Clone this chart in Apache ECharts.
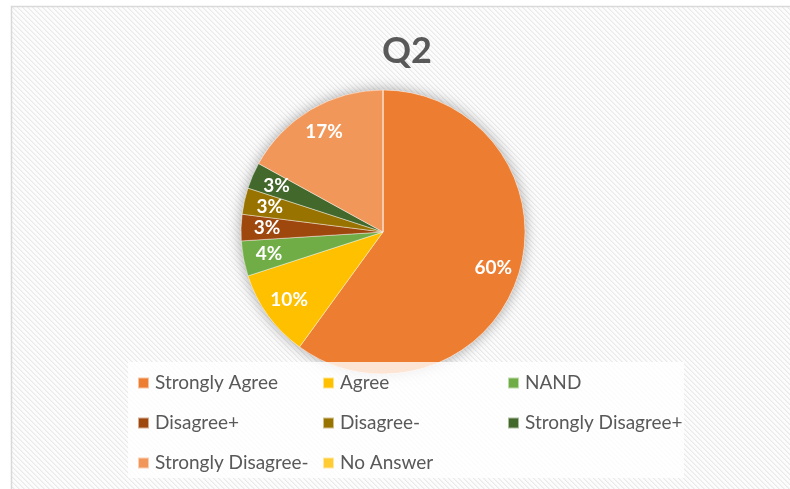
<!DOCTYPE html>
<html>
<head>
<meta charset="utf-8">
<script src="https://cdn.jsdelivr.net/npm/echarts@6/dist/echarts.min.js"></script>
<style>
  html, body { margin: 0; padding: 0; background: #ffffff; }
  #chart { width: 790px; height: 489px; }
</style>
</head>
<body>
<div id="chart"></div>
<script>
// ---- data ----
const title = 'Q2';
const categories = ['Strongly Agree', 'Agree', 'NAND', 'Disagree+', 'Disagree-', 'Strongly Disagree+', 'Strongly Disagree-', 'No Answer'];
const percents = [60, 10, 4, 3, 3, 3, 17, 0];
const palette = ['#ED7D31', '#FFC000', '#70AD47', '#9E480E', '#997300', '#43682B', '#F1975A', '#FFCD33'];
const legendColumns = [
  ['Strongly Agree', 'Disagree+', 'Strongly Disagree-'],
  ['Agree', 'Disagree-', 'No Answer'],
  ['NAND', 'Strongly Disagree+']
];

// ---- hatch background pattern ----
function makeHatch() {
  const n = 5;
  const c = document.createElement('canvas');
  c.width = n; c.height = n;
  const ctx = c.getContext('2d');
  const img = ctx.createImageData(n, n);
  for (let y = 0; y < n; y++) {
    for (let x = 0; x < n; x++) {
      const k = ((x - y) % n + n) % n;
      const v = k === 0 ? 234 : (k === 1 ? 243 : 252);
      const i = (y * n + x) * 4;
      img.data[i] = v; img.data[i + 1] = v; img.data[i + 2] = v; img.data[i + 3] = 255;
    }
  }
  ctx.putImageData(img, 0, 0);
  return c;
}

const chart = echarts.init(document.getElementById('chart'), null, { renderer: 'canvas' });
const pieCenter = [383, 232];
const pieRadius = 142;
const fontFam = 'Lato, "Open Sans", sans-serif';

const pieData = categories.map((name, i) => ({ name, value: percents[i], itemStyle: { color: palette[i] } }));

const legendLefts = [137, 322, 507];
const legends = legendColumns.map((col, ci) => ({
  data: col,
  orient: 'vertical',
  left: legendLefts[ci],
  top: 373,
  padding: 0,
  itemWidth: 11,
  itemHeight: 11,
  itemGap: 20,
  icon: 'rect',
  selectedMode: false,
  textStyle: { color: '#595959', fontSize: 19, fontFamily: fontFam, lineHeight: 20, padding: [0, 0, 0, 1] }
}));

chart.setOption({
  animation: false,
  backgroundColor: '#ffffff',
  title: {
    text: title,
    left: 382,
    top: 33,
    padding: 0,
    textStyle: { color: '#595959', fontSize: 36, fontWeight: 'bold', fontFamily: fontFam, lineHeight: 36 }
  },
  legend: legends,
  graphic: [
    {
      type: 'rect', z: 0, silent: true,
      shape: { x: 11.5, y: 6.5, width: 800, height: 500 },
      style: { fill: { image: makeHatch(), repeat: 'repeat' }, stroke: '#d9d9d9', lineWidth: 1.5 }
    },
    {
      type: 'rect', z: 3, silent: true,
      shape: { x: 128, y: 362, width: 556, height: 116 },
      style: { fill: 'rgba(255,255,255,0.8)' }
    }
  ],
  series: [
    {
      type: 'pie', silent: true, z: 1,
      center: pieCenter, radius: pieRadius,
      label: { show: false }, labelLine: { show: false },
      itemStyle: { color: '#ffffff', shadowBlur: 14, shadowColor: 'rgba(0,0,0,0.35)' },
      data: [{ value: 1, name: '__shadow__' }]
    },
    {
      type: 'pie', z: 2,
      center: pieCenter, radius: pieRadius,
      startAngle: 90, clockwise: true,
      label: { show: false }, labelLine: { show: false },
      itemStyle: { borderColor: 'rgba(255,255,255,0.55)', borderWidth: 0.75 },
      emphasis: { disabled: true },
      data: pieData
    },
    {
      type: 'pie', z: 2, silent: true,
      center: pieCenter, radius: [84, pieRadius],
      startAngle: 90, clockwise: true,
      itemStyle: { color: 'rgba(0,0,0,0)' },
      labelLine: { show: false },
      label: {
        show: true, position: 'inside',
        color: '#ffffff', fontSize: 19, fontWeight: 'bold', fontFamily: fontFam,
        formatter: p => (p.value > 0 ? p.value + '%' : '')
      },
      data: categories.map((name, i) => ({ name, value: percents[i] }))
    }
  ]
});
</script>
</body>
</html>
